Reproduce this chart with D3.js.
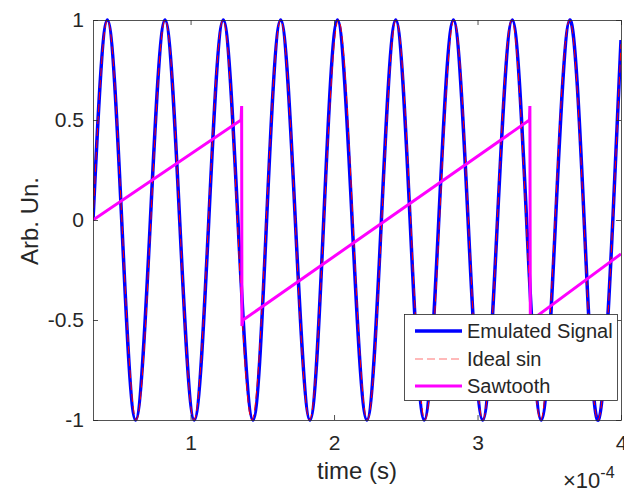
<!DOCTYPE html>
<html>
<head>
<meta charset="utf-8">
<script src="https://cdn.jsdelivr.net/npm/d3@7"></script>
<style>
  body { margin: 0; background: #fff; }
  svg text { font-family: "Liberation Sans", Arial, sans-serif; fill: #262626; }
</style>
</head>
<body>
<svg id="chart" width="624" height="490"></svg>
<script>
// time in units of 1e-4 s
var emulatedT = [0.32, 0.42, 0.52, 0.617, 0.72, 0.822, 0.924, 1.026, 1.127, 1.228, 1.33, 1.435, 1.53,
  1.628, 1.73, 1.832, 1.928, 2.024, 2.126, 2.229, 2.33, 2.43, 2.53, 2.629, 2.73, 2.832, 2.934,
  3.036, 3.139, 3.242, 3.342, 3.444, 3.544, 3.644, 3.743, 3.842, 3.943, 4.0];
var emulatedV = [0, 1, 0, -1, 0, 1, 0, -1, 0, 1, 0, -1, 0,
  1, 0, -1, 0, 1, 0, -1, 0, 1, 0, -1, 0, 1, 0,
  -1, 0, 1, 0, -1, 0, 1, 0, -1, 0, 0.9];

var idealT = [0.32, 0.421, 0.521, 0.622, 0.723, 0.823, 0.924, 1.024, 1.125, 1.226, 1.326, 1.427, 1.528,
  1.628, 1.729, 1.829, 1.93, 2.031, 2.131, 2.232, 2.333, 2.433, 2.534, 2.634, 2.735, 2.836, 2.936,
  3.037, 3.138, 3.238, 3.339, 3.439, 3.54, 3.641, 3.741, 3.842, 3.943, 4.0];
var idealV = [0, 1, 0, -1, 0, 1, 0, -1, 0, 1, 0, -1, 0,
  1, 0, -1, 0, 1, 0, -1, 0, 1, 0, -1, 0, 1, 0,
  -1, 0, 1, 0, -1, 0, 1, 0, -1, 0, 0.88];

var sawT = [0.32, 1.352, 1.356, 1.358, 1.366, 3.362, 3.365, 3.368, 3.376, 4.0];
var sawV = [0, 0.5, 0.57, -0.53, -0.5, 0.5, 0.57, -0.53, -0.5, -0.17];

var xTicks = [1, 2, 3, 4];
var yTicks = [-1, -0.5, 0, 0.5, 1];
var seriesNames = ["Emulated Signal", "Ideal sin", "Sawtooth"];

var plotL = 93, plotR = 621, plotT = 20, plotB = 420;
var svg = d3.select("#chart");

var x = d3.scaleLinear().domain([0.32, 4.0]).range([plotL, plotR]);
var y = d3.scaleLinear().domain([-1, 1]).range([plotB, plotT]);

svg.append("defs").append("clipPath").attr("id", "clip")
  .append("rect").attr("x", plotL).attr("y", plotT - 3)
  .attr("width", plotR - plotL).attr("height", plotB - plotT + 6);

function pts(t, v) { return t.map((d, i) => [d, v[i]]); }

var lineSmooth = d3.line().x(d => x(d[0])).y(d => y(d[1])).curve(d3.curveNatural);
var lineStraight = d3.line().x(d => x(d[0])).y(d => y(d[1]));

var plot = svg.append("g").attr("clip-path", "url(#clip)");

plot.append("path").datum(pts(emulatedT, emulatedV))
  .attr("d", lineSmooth).attr("fill", "none")
  .attr("stroke", "#0000ff").attr("stroke-width", 3.5);

plot.append("path").datum(pts(idealT, idealV))
  .attr("d", lineSmooth).attr("fill", "none")
  .attr("stroke", "#ff0000").attr("stroke-width", 1)
  .attr("stroke-dasharray", "8,4");

plot.append("path").datum(pts(sawT, sawV))
  .attr("d", lineStraight).attr("fill", "none")
  .attr("stroke", "#ff00ff").attr("stroke-width", 3)
  .attr("stroke-linejoin", "miter");

// axes (box with inward ticks)
var axCol = "#262626";
function styleAxis(g) {
  g.selectAll(".domain").attr("stroke", axCol).attr("stroke-width", 0.8);
  g.selectAll(".tick line").attr("stroke", axCol).attr("stroke-width", 0.8);
  g.selectAll(".tick text").attr("font-size", 21).attr("fill", axCol)
    .style("font-family", "'Liberation Sans', Arial, sans-serif");
}

svg.append("g").attr("transform", `translate(0,${plotB})`)
  .call(d3.axisBottom(x).tickValues(xTicks).tickFormat(d3.format("d"))
    .tickSizeInner(-5).tickSizeOuter(0).tickPadding(15))
  .call(styleAxis);

svg.append("g").attr("transform", `translate(0,${plotT})`)
  .call(d3.axisTop(x).tickValues(xTicks).tickFormat("")
    .tickSizeInner(-5).tickSizeOuter(0))
  .call(styleAxis);

svg.append("g").attr("transform", `translate(${plotL},0)`)
  .call(d3.axisLeft(y).tickValues(yTicks).tickFormat(d => String(d))
    .tickSizeInner(-5).tickSizeOuter(0).tickPadding(9))
  .call(styleAxis);

svg.append("g").attr("transform", `translate(${plotR},0)`)
  .call(d3.axisRight(y).tickValues(yTicks).tickFormat("")
    .tickSizeInner(-5).tickSizeOuter(0))
  .call(styleAxis);

// axis labels
svg.append("text").attr("x", (plotL + plotR) / 2).attr("y", 479)
  .attr("text-anchor", "middle").attr("font-size", 24).text("time (s)");

svg.append("text").attr("transform", "translate(38,221) rotate(-90)")
  .attr("text-anchor", "middle").attr("font-size", 24).text("Arb. Un.");

var expo = svg.append("text").attr("x", 563).attr("y", 488).attr("font-size", 22);
expo.append("tspan").text("\u00d710");
expo.append("tspan").attr("font-size", 16).attr("dy", -10).text("-4");

// legend
var lg = svg.append("g");
lg.append("rect").attr("x", 404.5).attr("y", 314.5).attr("width", 213).attr("height", 86)
  .attr("fill", "#fff").attr("stroke", axCol).attr("stroke-width", 0.8);

var legStyles = [
  {color: "#0000ff", width: 3.5, dash: null},
  {color: "#ff0000", width: 1, dash: "8,4"},
  {color: "#ff00ff", width: 3, dash: null}
];
var legY = [331, 359, 386];

seriesNames.forEach(function(name, i) {
  var l = lg.append("line").attr("x1", 415).attr("x2", 462)
    .attr("y1", legY[i]).attr("y2", legY[i])
    .attr("stroke", legStyles[i].color).attr("stroke-width", legStyles[i].width);
  if (legStyles[i].dash) l.attr("stroke-dasharray", legStyles[i].dash).attr("stroke-opacity", 0.55);
  lg.append("text").attr("x", 467).attr("y", legY[i]).attr("dy", "0.35em")
    .attr("font-size", 20).attr("fill", "#000").text(name);
});
</script>
</body>
</html>
